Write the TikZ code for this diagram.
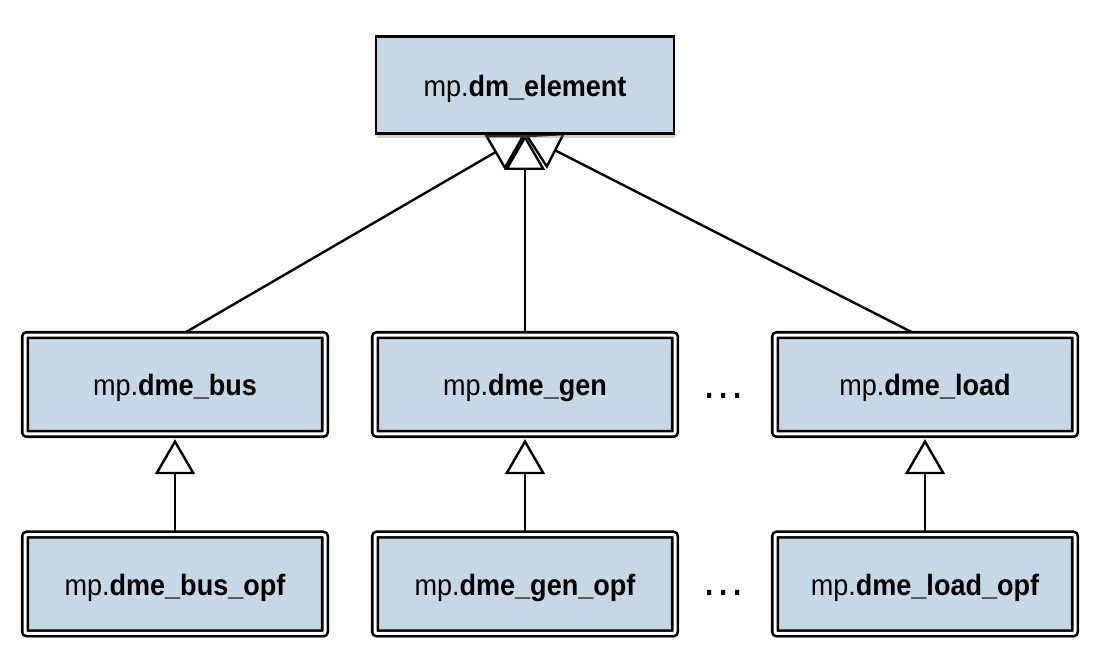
\documentclass[tikz,border=0pt]{standalone}
\usepackage{fontspec}
\setmainfont{Liberation Sans}[FakeStretch=0.92]
\usetikzlibrary{arrows.meta,shadows,backgrounds}
\definecolor{dmblue}{RGB}{198,216,230}
\tikzset{
    baseclass/.style={
    rectangle,draw=black,fill=dmblue,line width=1.4pt,
    minimum width=149pt,minimum height=48.6pt,
    font=\fontsize{14.7}{17}\selectfont,text height=11.5pt,text depth=0pt,
    drop shadow={shadow xshift=0.6pt,shadow yshift=-2.2pt,opacity=0.35}
    },
    subclass/.style={
    rectangle,rounded corners=1pt,draw=black,fill=dmblue,line width=1.3pt,
    double=white,double distance=1.5pt,
    minimum width=150pt,minimum height=49.4pt,
    font=\fontsize{14.7}{17}\selectfont,text height=11.5pt,text depth=0pt,
    drop shadow={shadow xshift=0.6pt,shadow yshift=-2.4pt,opacity=0.35}
    },
    inherit/.style={
    line width=1.2pt,-{Triangle[open,fill=white,length=17.5pt,width=20pt]}
    },
    etc/.style={
    font=\fontsize{24}{24}\selectfont
    },
}
\begin{document}
\begin{tikzpicture}[x=0.5pt,y=-0.5pt]
  \useasboundingbox (0,0) rectangle (1116,663);
  \node[baseclass] (elem) at (525,85) {mp.\textbf{dm\_element}};

  \node[subclass] (bus) at (175,384.5) {mp.\textbf{dme\_bus}};
  \node[subclass] (gen) at (525,384.5) {mp.\textbf{dme\_gen}};
  \node[subclass] (load) at (925,384.5) {mp.\textbf{dme\_load}};

  \node[subclass] (busopf) at (175,584) {mp.\textbf{dme\_bus\_opf}};
  \node[subclass] (genopf) at (525,584) {mp.\textbf{dme\_gen\_opf}};
  \node[subclass] (loadopf) at (925,584) {mp.\textbf{dme\_load\_opf}};

  \node[etc] (dotsa) at (724,396) {…};
  \node[etc] (dotsb) at (724,593) {…};

  \begin{pgfonlayer}{background}
  \path[inherit]
    ([xshift=4pt]bus.north) edge (elem.south)
    ([xshift=-5pt]load.north) edge (elem.south)
    (gen.north) edge (elem.south);
  \path[inherit,shorten >=2pt]
    (busopf) edge (bus)
    (genopf) edge (gen)
    (loadopf) edge (load);
  \end{pgfonlayer}
\end{tikzpicture}
\end{document}
